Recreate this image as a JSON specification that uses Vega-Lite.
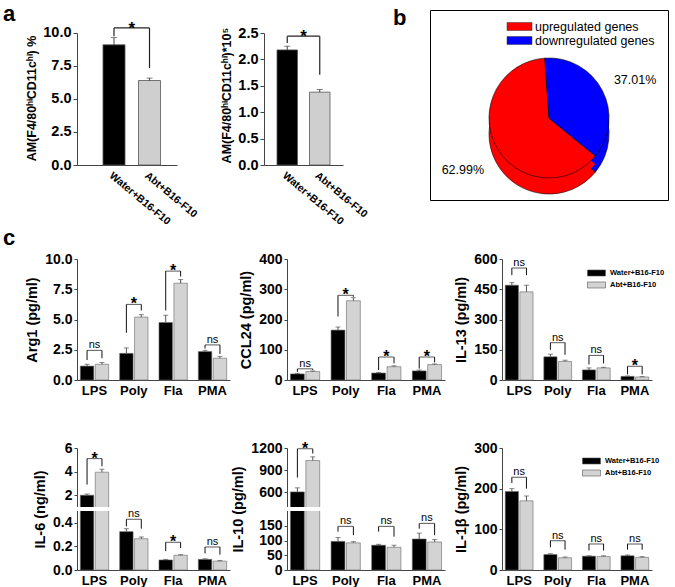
{
"$schema": "https://vega.github.io/schema/vega-lite/v6.json",
"background": "white",
"padding": {"left": 3, "top": 3, "right": 2, "bottom": 2},
"config": {
  "font": "Liberation Sans",
  "view": {"stroke": null},
  "axis": {"grid": false, "domainColor": "#444", "tickColor": "#444", "labelColor": "#000", "titleColor": "#000", "labelFont": "Liberation Sans", "titleFont": "Liberation Sans", "labelOverlap": false},
  "axisY": {"labelFontSize": 14, "labelFontWeight": "bold", "titleFontSize": 14.5, "titleFontWeight": "bold", "tickSize": 3, "labelPadding": 2, "titlePadding": 5, "labelOverlap": false, "tickCount": 20},
  "title": {"font": "Liberation Sans", "color": "#000"},
  "legend": {"labelFont": "Liberation Sans", "labelColor": "#000"},
  "text": {"font": "Liberation Sans"}
},
"datasets": {
  "a": [
    {"p": "a1", "g": "Water+B16-F10", "v": 9.1, "e": 9.65, "b": 9.75, "h": 10.38, "lab": "*"},
    {"p": "a1", "g": "Abt+B16-F10", "v": 6.4, "e": 6.58, "b": 7.35, "h": 10.38},
    {"p": "a2", "g": "Water+B16-F10", "v": 2.18, "e": 2.25, "b": 2.31, "h": 2.44, "lab": "*"},
    {"p": "a2", "g": "Abt+B16-F10", "v": 1.38, "e": 1.43, "b": 1.71, "h": 2.44}
  ],
  "c": [
    {"p": "Arg1", "cat": "LPS", "g": "Water+B16-F10", "v": 1.15, "e": 1.3, "b": 1.65, "h": 2.45, "lab": "ns"},
    {"p": "Arg1", "cat": "LPS", "g": "Abt+B16-F10", "v": 1.3, "e": 1.45, "b": 1.8, "h": 2.45},
    {"p": "Arg1", "cat": "Poly", "g": "Water+B16-F10", "v": 2.2, "e": 2.65, "b": 3.9, "h": 6.25, "lab": "*"},
    {"p": "Arg1", "cat": "Poly", "g": "Abt+B16-F10", "v": 5.2, "e": 5.4, "b": 5.75, "h": 6.25},
    {"p": "Arg1", "cat": "Fla", "g": "Water+B16-F10", "v": 4.75, "e": 5.35, "b": 5.75, "h": 9.0, "lab": "*"},
    {"p": "Arg1", "cat": "Fla", "g": "Abt+B16-F10", "v": 8.0, "e": 8.3, "b": 8.55, "h": 9.0},
    {"p": "Arg1", "cat": "PMA", "g": "Water+B16-F10", "v": 2.35, "e": 2.45, "b": 2.6, "h": 2.9, "lab": "ns"},
    {"p": "Arg1", "cat": "PMA", "g": "Abt+B16-F10", "v": 1.8, "e": 1.95, "b": 2.15, "h": 2.9},
    {"p": "CCL24", "cat": "LPS", "g": "Water+B16-F10", "v": 20, "e": 22, "b": 27, "h": 37, "lab": "ns"},
    {"p": "CCL24", "cat": "LPS", "g": "Abt+B16-F10", "v": 28, "e": 30, "b": 33, "h": 37},
    {"p": "CCL24", "cat": "Poly", "g": "Water+B16-F10", "v": 165, "e": 175, "b": 210, "h": 280, "lab": "*"},
    {"p": "CCL24", "cat": "Poly", "g": "Abt+B16-F10", "v": 262, "e": 272, "b": 275, "h": 280},
    {"p": "CCL24", "cat": "Fla", "g": "Water+B16-F10", "v": 23, "e": 25, "b": 33, "h": 76, "lab": "*"},
    {"p": "CCL24", "cat": "Fla", "g": "Abt+B16-F10", "v": 44, "e": 47, "b": 55, "h": 76},
    {"p": "CCL24", "cat": "PMA", "g": "Water+B16-F10", "v": 30, "e": 33, "b": 38, "h": 76, "lab": "*"},
    {"p": "CCL24", "cat": "PMA", "g": "Abt+B16-F10", "v": 51, "e": 53, "b": 58, "h": 76},
    {"p": "IL13", "cat": "LPS", "g": "Water+B16-F10", "v": 470, "e": 483, "b": 520, "h": 555, "lab": "ns"},
    {"p": "IL13", "cat": "LPS", "g": "Abt+B16-F10", "v": 437, "e": 470, "b": 520, "h": 555},
    {"p": "IL13", "cat": "Poly", "g": "Water+B16-F10", "v": 115, "e": 128, "b": 150, "h": 185, "lab": "ns"},
    {"p": "IL13", "cat": "Poly", "g": "Abt+B16-F10", "v": 92, "e": 98, "b": 125, "h": 185},
    {"p": "IL13", "cat": "Fla", "g": "Water+B16-F10", "v": 50, "e": 60, "b": 77, "h": 122, "lab": "ns"},
    {"p": "IL13", "cat": "Fla", "g": "Abt+B16-F10", "v": 60, "e": 63, "b": 82, "h": 122},
    {"p": "IL13", "cat": "PMA", "g": "Water+B16-F10", "v": 18, "e": 20, "b": 28, "h": 68, "lab": "*"},
    {"p": "IL13", "cat": "PMA", "g": "Abt+B16-F10", "v": 15, "e": 17, "b": 28, "h": 68},
    {"p": "IL6", "cat": "LPS", "g": "Water+B16-F10", "v": 2.0, "e": 2.1, "b": 2.9, "h": 5.1, "lab": "*"},
    {"p": "IL6", "cat": "LPS", "g": "Abt+B16-F10", "v": 3.95, "e": 4.2, "b": 4.45, "h": 5.1},
    {"p": "IL6", "cat": "Poly", "g": "Water+B16-F10", "v": 0.325, "e": 0.35, "b": 0.37, "h": 0.43, "lab": "ns"},
    {"p": "IL6", "cat": "Poly", "g": "Abt+B16-F10", "v": 0.265, "e": 0.28, "b": 0.35, "h": 0.43},
    {"p": "IL6", "cat": "Fla", "g": "Water+B16-F10", "v": 0.085, "e": 0.09, "b": 0.16, "h": 0.235, "lab": "*"},
    {"p": "IL6", "cat": "Fla", "g": "Abt+B16-F10", "v": 0.125, "e": 0.13, "b": 0.185, "h": 0.235},
    {"p": "IL6", "cat": "PMA", "g": "Water+B16-F10", "v": 0.09, "e": 0.095, "b": 0.14, "h": 0.195, "lab": "ns"},
    {"p": "IL6", "cat": "PMA", "g": "Abt+B16-F10", "v": 0.075, "e": 0.08, "b": 0.13, "h": 0.195},
    {"p": "IL10", "cat": "LPS", "g": "Water+B16-F10", "v": 605, "e": 660, "b": 800, "h": 1190, "lab": "*"},
    {"p": "IL10", "cat": "LPS", "g": "Abt+B16-F10", "v": 1030, "e": 1080, "b": 1125, "h": 1190},
    {"p": "IL10", "cat": "Poly", "g": "Water+B16-F10", "v": 97, "e": 110, "b": 130, "h": 148, "lab": "ns"},
    {"p": "IL10", "cat": "Poly", "g": "Abt+B16-F10", "v": 92, "e": 96, "b": 118, "h": 148},
    {"p": "IL10", "cat": "Fla", "g": "Water+B16-F10", "v": 84, "e": 87, "b": 130, "h": 148, "lab": "ns"},
    {"p": "IL10", "cat": "Fla", "g": "Abt+B16-F10", "v": 77, "e": 84, "b": 113, "h": 148},
    {"p": "IL10", "cat": "PMA", "g": "Water+B16-F10", "v": 105, "e": 125, "b": 140, "h": 158, "lab": "ns"},
    {"p": "IL10", "cat": "PMA", "g": "Abt+B16-F10", "v": 95, "e": 103, "b": 118, "h": 158},
    {"p": "IL1b", "cat": "LPS", "g": "Water+B16-F10", "v": 193, "e": 200, "b": 214, "h": 228, "lab": "ns"},
    {"p": "IL1b", "cat": "LPS", "g": "Abt+B16-F10", "v": 170, "e": 182, "b": 200, "h": 228},
    {"p": "IL1b", "cat": "Poly", "g": "Water+B16-F10", "v": 38, "e": 40, "b": 56, "h": 72, "lab": "ns"},
    {"p": "IL1b", "cat": "Poly", "g": "Abt+B16-F10", "v": 30, "e": 32, "b": 50, "h": 72},
    {"p": "IL1b", "cat": "Fla", "g": "Water+B16-F10", "v": 34, "e": 35, "b": 48, "h": 64, "lab": "ns"},
    {"p": "IL1b", "cat": "Fla", "g": "Abt+B16-F10", "v": 33, "e": 35, "b": 48, "h": 64},
    {"p": "IL1b", "cat": "PMA", "g": "Water+B16-F10", "v": 35, "e": 37, "b": 50, "h": 64, "lab": "ns"},
    {"p": "IL1b", "cat": "PMA", "g": "Abt+B16-F10", "v": 31, "e": 33, "b": 50, "h": 64}
  ],
  "pie": [
    {"cat": "upregulated genes", "pct": 62.99, "lab": "62.99%"},
    {"cat": "downregulated genes", "pct": 37.01, "lab": "37.01%"}
  ]
},
"columns": 1,
"spacing": 0,
"resolve": {"scale": {"color": "independent", "xOffset": "independent", "theta": "independent"}, "legend": {"color": "independent"}},
"concat": [
  {
    "hconcat": [
      {
        "width": 100, "height": 155,
        "title": {"text": "a", "anchor": "start", "frame": "group", "dx": -74, "offset": -16, "fontSize": 22, "fontWeight": "bold"},
        "data": {"name": "a"},
        "transform": [{"filter": "datum.p === 'a1'"}],
        "layer": [
          {"mark": {"type": "bar", "stroke": "#555", "strokeWidth": 0.8},
           "encoding": {
             "x": {"field": "g", "type": "nominal", "sort": ["Water+B16-F10", "Abt+B16-F10"], "scale": {"paddingInner": 0.38, "paddingOuter": 0.598, "align": 0.612}, "axis": {"title": null, "labelAngle": 40, "labelFontSize": 10.5, "labelFontWeight": "bold", "ticks": false, "labelPadding": 5}},
             "y": {"field": "v", "type": "quantitative", "scale": {"domain": [0, 11.74], "nice": false}, "axis": {"title": "AM(F4/80ʰⁱCD11cʰⁱ) %", "values": [0, 2.5, 5, 7.5, 10], "tickCount": 20, "format": ".1f", "labelOverlap": false, "domainDash": [132, 300], "titleFontSize": 12.5, "titleY": 88, "labelFontSize": 14.5, "tickSize": 4, "titlePadding": 4}},
             "color": {"field": "g", "type": "nominal", "scale": {"domain": ["Water+B16-F10", "Abt+B16-F10"], "range": ["#000000", "#cfcfcf"]}, "legend": null}
           }},
          {"mark": {"type": "rule", "color": "#444"},
           "encoding": {"x": {"field": "g", "type": "nominal", "sort": ["Water+B16-F10", "Abt+B16-F10"]}, "y": {"field": "v", "type": "quantitative"}, "y2": {"field": "e"}}},
          {"mark": {"type": "tick", "color": "#444", "size": 6, "thickness": 1},
           "encoding": {"x": {"field": "g", "type": "nominal", "sort": ["Water+B16-F10", "Abt+B16-F10"]}, "y": {"field": "e", "type": "quantitative"}}},
          {"mark": {"type": "rule", "color": "#222", "strokeWidth": 1.2},
           "encoding": {"x": {"field": "g", "type": "nominal", "sort": ["Water+B16-F10", "Abt+B16-F10"]}, "y": {"field": "b", "type": "quantitative"}, "y2": {"field": "h"}}},
          {"mark": {"type": "line", "color": "#222", "strokeWidth": 1.2},
           "encoding": {"x": {"field": "g", "type": "nominal", "sort": ["Water+B16-F10", "Abt+B16-F10"]}, "y": {"field": "h", "type": "quantitative"}}},
          {"transform": [{"filter": "datum.lab"}],
           "mark": {"type": "text", "fontSize": 17, "fontWeight": "bold", "baseline": "alphabetic", "dy": 6, "dx": 17.75},
           "encoding": {"x": {"field": "g", "type": "nominal", "sort": ["Water+B16-F10", "Abt+B16-F10"]}, "y": {"field": "h", "type": "quantitative"}, "text": {"field": "lab"}}}
        ]
      },
      {
        "width": 79, "height": 155,
        "data": {"name": "a"},
        "transform": [{"filter": "datum.p === 'a2'"}],
        "layer": [
          {"mark": {"type": "bar", "stroke": "#555", "strokeWidth": 0.8},
           "encoding": {
             "x": {"field": "g", "type": "nominal", "sort": ["Water+B16-F10", "Abt+B16-F10"], "scale": {"paddingInner": 0.37, "paddingOuter": 0.4}, "axis": {"title": null, "labelAngle": 40, "labelFontSize": 10.5, "labelFontWeight": "bold", "ticks": false, "labelPadding": 5}},
             "y": {"field": "v", "type": "quantitative", "scale": {"domain": [0, 2.936], "nice": false}, "axis": {"title": "AM(F4/80ʰⁱCD11cʰⁱ)*10⁵", "values": [0, 0.5, 1, 1.5, 2, 2.5], "tickCount": 20, "format": ".1f", "labelOverlap": false, "domainDash": [132, 300], "titleFontSize": 12.5, "titleY": 85, "labelFontSize": 14.5, "tickSize": 4, "titlePadding": 4}},
             "color": {"field": "g", "type": "nominal", "scale": {"domain": ["Water+B16-F10", "Abt+B16-F10"], "range": ["#000000", "#cfcfcf"]}, "legend": null}
           }},
          {"mark": {"type": "rule", "color": "#444"},
           "encoding": {"x": {"field": "g", "type": "nominal", "sort": ["Water+B16-F10", "Abt+B16-F10"]}, "y": {"field": "v", "type": "quantitative"}, "y2": {"field": "e"}}},
          {"mark": {"type": "tick", "color": "#444", "size": 6, "thickness": 1},
           "encoding": {"x": {"field": "g", "type": "nominal", "sort": ["Water+B16-F10", "Abt+B16-F10"]}, "y": {"field": "e", "type": "quantitative"}}},
          {"mark": {"type": "rule", "color": "#222", "strokeWidth": 1.2},
           "encoding": {"x": {"field": "g", "type": "nominal", "sort": ["Water+B16-F10", "Abt+B16-F10"]}, "y": {"field": "b", "type": "quantitative"}, "y2": {"field": "h"}}},
          {"mark": {"type": "line", "color": "#222", "strokeWidth": 1.2},
           "encoding": {"x": {"field": "g", "type": "nominal", "sort": ["Water+B16-F10", "Abt+B16-F10"]}, "y": {"field": "h", "type": "quantitative"}}},
          {"transform": [{"filter": "datum.lab"}],
           "mark": {"type": "text", "fontSize": 17, "fontWeight": "bold", "baseline": "alphabetic", "dy": 6, "dx": 16.25},
           "encoding": {"x": {"field": "g", "type": "nominal", "sort": ["Water+B16-F10", "Abt+B16-F10"]}, "y": {"field": "h", "type": "quantitative"}, "text": {"field": "lab"}}}
        ]
      },
      {
        "width": 238, "height": 190,
        "view": {"stroke": "#000", "strokeWidth": 1},
        "title": {"text": "b", "anchor": "start", "frame": "group", "dx": -37, "offset": -20, "fontSize": 22, "fontWeight": "bold"},
        "data": {"name": "pie"},
        "encoding": {
          "theta": {"field": "pct", "type": "quantitative", "stack": true, "scale": {"range": [-0.07, 6.2132]}},
          "order": {"field": "cat", "sort": "ascending"},
          "color": {"field": "cat", "type": "nominal", "scale": {"domain": ["upregulated genes", "downregulated genes"], "range": ["#ff0000", "#0000ff"]},
                    "legend": {"orient": "none", "legendX": 83, "legendY": 10, "title": null, "symbolType": "M-2,-0.64H2V0.64H-2Z", "symbolSize": 156, "labelFontSize": 12.5, "labelOffset": 9, "symbolStrokeColor": "#333", "symbolStrokeWidth": 0.5, "rowPadding": 1}}
        },
        "layer": [
          {"mark": {"type": "arc", "outerRadius": 60, "yOffset": 29, "stroke": "#000", "strokeWidth": 0.6}},
          {"mark": {"type": "arc", "outerRadius": 60, "yOffset": 21}},
          {"mark": {"type": "arc", "outerRadius": 60, "yOffset": 13, "stroke": "#000", "strokeWidth": 0.6}},
          {"mark": {"type": "text", "radius": 97, "yOffset": 13, "dy": 7, "fontSize": 12.5, "color": "#000"},
           "encoding": {"text": {"field": "lab"}, "color": {"value": "#000"}}}
        ]
      }
    ],
    "spacing": 87,
    "bounds": "flush",
    "resolve": {"scale": {"color": "independent", "xOffset": "independent", "theta": "independent"}, "legend": {"color": "independent"}}
  },
  {
    "hconcat": [
      {
        "width": 153, "height": 121,
        "title": {"text": "c", "anchor": "start", "frame": "group", "dx": -74, "offset": 2, "fontSize": 22, "fontWeight": "bold"},
        "data": {"name": "c"},
        "transform": [{"filter": "datum.p === 'Arg1'"}],
        "layer": [
          {"mark": {"type": "bar", "stroke": "#666", "strokeWidth": 0.6},
           "encoding": {
             "x": {"field": "cat", "type": "nominal", "sort": ["LPS", "Poly", "Fla", "PMA"], "scale": {"paddingInner": 0.28, "paddingOuter": 0.085}, "axis": {"title": null, "labelAngle": 0, "labelFontSize": 13, "labelFontWeight": "bold", "ticks": false, "labelPadding": 4}},
             "xOffset": {"field": "g", "type": "nominal", "sort": ["Water+B16-F10", "Abt+B16-F10"], "scale": {"paddingInner": 0.1}},
             "y": {"field": "v", "type": "quantitative", "scale": {"domain": [0, 10], "nice": false}, "axis": {"title": "Arg1  (pg/ml)", "values": [0, 2.5, 5, 7.5, 10], "tickCount": 20, "format": ".1f", "labelOverlap": false}},
             "color": {"field": "g", "type": "nominal", "scale": {"domain": ["Water+B16-F10", "Abt+B16-F10"], "range": ["#000000", "#d3d3d3"]}, "legend": null}
           }},
          {"mark": {"type": "rule", "color": "#555"},
           "encoding": {"x": {"field": "cat", "type": "nominal", "sort": ["LPS", "Poly", "Fla", "PMA"]}, "xOffset": {"field": "g", "type": "nominal", "sort": ["Water+B16-F10", "Abt+B16-F10"]}, "y": {"field": "v", "type": "quantitative"}, "y2": {"field": "e"}}},
          {"mark": {"type": "tick", "color": "#555", "size": 5, "thickness": 1},
           "encoding": {"x": {"field": "cat", "type": "nominal", "sort": ["LPS", "Poly", "Fla", "PMA"]}, "xOffset": {"field": "g", "type": "nominal", "sort": ["Water+B16-F10", "Abt+B16-F10"]}, "y": {"field": "e", "type": "quantitative"}}},
          {"mark": {"type": "rule", "color": "#111"},
           "encoding": {"x": {"field": "cat", "type": "nominal", "sort": ["LPS", "Poly", "Fla", "PMA"]}, "xOffset": {"field": "g", "type": "nominal", "sort": ["Water+B16-F10", "Abt+B16-F10"]}, "y": {"field": "b", "type": "quantitative"}, "y2": {"field": "h"}}},
          {"transform": [{"filter": "datum.lab"}], "mark": {"type": "tick", "color": "#111", "size": 15, "thickness": 1},
           "encoding": {"x": {"field": "cat", "type": "nominal", "sort": ["LPS", "Poly", "Fla", "PMA"]}, "y": {"field": "h", "type": "quantitative"}}},
          {"transform": [{"filter": "datum.lab === 'ns'"}], "mark": {"type": "text", "fontSize": 11, "baseline": "alphabetic", "dy": -2},
           "encoding": {"x": {"field": "cat", "type": "nominal", "sort": ["LPS", "Poly", "Fla", "PMA"]}, "y": {"field": "h", "type": "quantitative"}, "text": {"field": "lab"}}},
          {"transform": [{"filter": "datum.lab === '*'"}], "mark": {"type": "text", "fontSize": 16, "fontWeight": "bold", "baseline": "alphabetic", "dy": 5},
           "encoding": {"x": {"field": "cat", "type": "nominal", "sort": ["LPS", "Poly", "Fla", "PMA"]}, "y": {"field": "h", "type": "quantitative"}, "text": {"field": "lab"}}}
        ]
      },
      {
        "width": 158, "height": 121,
        "data": {"name": "c"},
        "transform": [{"filter": "datum.p === 'CCL24'"}],
        "layer": [
          {"mark": {"type": "bar", "stroke": "#666", "strokeWidth": 0.6},
           "encoding": {
             "x": {"field": "cat", "type": "nominal", "sort": ["LPS", "Poly", "Fla", "PMA"], "scale": {"paddingInner": 0.28, "paddingOuter": 0.085}, "axis": {"title": null, "labelAngle": 0, "labelFontSize": 13, "labelFontWeight": "bold", "ticks": false, "labelPadding": 4}},
             "xOffset": {"field": "g", "type": "nominal", "sort": ["Water+B16-F10", "Abt+B16-F10"], "scale": {"paddingInner": 0.1}},
             "y": {"field": "v", "type": "quantitative", "scale": {"domain": [0, 400], "nice": false}, "axis": {"title": "CCL24 (pg/ml)", "values": [0, 100, 200, 300, 400], "tickCount": 20, "labelOverlap": false}},
             "color": {"field": "g", "type": "nominal", "scale": {"domain": ["Water+B16-F10", "Abt+B16-F10"], "range": ["#000000", "#d3d3d3"]}, "legend": null}
           }},
          {"mark": {"type": "rule", "color": "#555"},
           "encoding": {"x": {"field": "cat", "type": "nominal", "sort": ["LPS", "Poly", "Fla", "PMA"]}, "xOffset": {"field": "g", "type": "nominal", "sort": ["Water+B16-F10", "Abt+B16-F10"]}, "y": {"field": "v", "type": "quantitative"}, "y2": {"field": "e"}}},
          {"mark": {"type": "tick", "color": "#555", "size": 5, "thickness": 1},
           "encoding": {"x": {"field": "cat", "type": "nominal", "sort": ["LPS", "Poly", "Fla", "PMA"]}, "xOffset": {"field": "g", "type": "nominal", "sort": ["Water+B16-F10", "Abt+B16-F10"]}, "y": {"field": "e", "type": "quantitative"}}},
          {"mark": {"type": "rule", "color": "#111"},
           "encoding": {"x": {"field": "cat", "type": "nominal", "sort": ["LPS", "Poly", "Fla", "PMA"]}, "xOffset": {"field": "g", "type": "nominal", "sort": ["Water+B16-F10", "Abt+B16-F10"]}, "y": {"field": "b", "type": "quantitative"}, "y2": {"field": "h"}}},
          {"transform": [{"filter": "datum.lab"}], "mark": {"type": "tick", "color": "#111", "size": 15, "thickness": 1},
           "encoding": {"x": {"field": "cat", "type": "nominal", "sort": ["LPS", "Poly", "Fla", "PMA"]}, "y": {"field": "h", "type": "quantitative"}}},
          {"transform": [{"filter": "datum.lab === 'ns'"}], "mark": {"type": "text", "fontSize": 11, "baseline": "alphabetic", "dy": -2},
           "encoding": {"x": {"field": "cat", "type": "nominal", "sort": ["LPS", "Poly", "Fla", "PMA"]}, "y": {"field": "h", "type": "quantitative"}, "text": {"field": "lab"}}},
          {"transform": [{"filter": "datum.lab === '*'"}], "mark": {"type": "text", "fontSize": 16, "fontWeight": "bold", "baseline": "alphabetic", "dy": 5},
           "encoding": {"x": {"field": "cat", "type": "nominal", "sort": ["LPS", "Poly", "Fla", "PMA"]}, "y": {"field": "h", "type": "quantitative"}, "text": {"field": "lab"}}}
        ]
      },
      {
        "width": 150, "height": 121,
        "data": {"name": "c"},
        "transform": [{"filter": "datum.p === 'IL13'"}],
        "layer": [
          {"mark": {"type": "bar", "stroke": "#666", "strokeWidth": 0.6},
           "encoding": {
             "x": {"field": "cat", "type": "nominal", "sort": ["LPS", "Poly", "Fla", "PMA"], "scale": {"paddingInner": 0.28, "paddingOuter": 0.085}, "axis": {"title": null, "labelAngle": 0, "labelFontSize": 13, "labelFontWeight": "bold", "ticks": false, "labelPadding": 4}},
             "xOffset": {"field": "g", "type": "nominal", "sort": ["Water+B16-F10", "Abt+B16-F10"], "scale": {"paddingInner": 0.1}},
             "y": {"field": "v", "type": "quantitative", "scale": {"domain": [0, 600], "nice": false}, "axis": {"title": "IL-13 (pg/ml)", "values": [0, 150, 300, 450, 600], "tickCount": 20, "labelOverlap": false}},
             "color": {"field": "g", "type": "nominal", "scale": {"domain": ["Water+B16-F10", "Abt+B16-F10"], "range": ["#000000", "#d3d3d3"]},
                       "legend": {"orient": "none", "legendX": 89.5, "legendY": 9, "title": null, "symbolType": "M-2,-0.67H2V0.67H-2Z", "symbolSize": 81, "labelFontSize": 7.5, "labelFontWeight": "bold", "labelOffset": 8.5, "symbolStrokeColor": "#555", "symbolStrokeWidth": 0.6, "rowPadding": 2}}
           }},
          {"mark": {"type": "rule", "color": "#555"},
           "encoding": {"x": {"field": "cat", "type": "nominal", "sort": ["LPS", "Poly", "Fla", "PMA"]}, "xOffset": {"field": "g", "type": "nominal", "sort": ["Water+B16-F10", "Abt+B16-F10"]}, "y": {"field": "v", "type": "quantitative"}, "y2": {"field": "e"}}},
          {"mark": {"type": "tick", "color": "#555", "size": 5, "thickness": 1},
           "encoding": {"x": {"field": "cat", "type": "nominal", "sort": ["LPS", "Poly", "Fla", "PMA"]}, "xOffset": {"field": "g", "type": "nominal", "sort": ["Water+B16-F10", "Abt+B16-F10"]}, "y": {"field": "e", "type": "quantitative"}}},
          {"mark": {"type": "rule", "color": "#111"},
           "encoding": {"x": {"field": "cat", "type": "nominal", "sort": ["LPS", "Poly", "Fla", "PMA"]}, "xOffset": {"field": "g", "type": "nominal", "sort": ["Water+B16-F10", "Abt+B16-F10"]}, "y": {"field": "b", "type": "quantitative"}, "y2": {"field": "h"}}},
          {"transform": [{"filter": "datum.lab"}], "mark": {"type": "tick", "color": "#111", "size": 15, "thickness": 1},
           "encoding": {"x": {"field": "cat", "type": "nominal", "sort": ["LPS", "Poly", "Fla", "PMA"]}, "y": {"field": "h", "type": "quantitative"}}},
          {"transform": [{"filter": "datum.lab === 'ns'"}], "mark": {"type": "text", "fontSize": 11, "baseline": "alphabetic", "dy": -2},
           "encoding": {"x": {"field": "cat", "type": "nominal", "sort": ["LPS", "Poly", "Fla", "PMA"]}, "y": {"field": "h", "type": "quantitative"}, "text": {"field": "lab"}}},
          {"transform": [{"filter": "datum.lab === '*'"}], "mark": {"type": "text", "fontSize": 16, "fontWeight": "bold", "baseline": "alphabetic", "dy": 5},
           "encoding": {"x": {"field": "cat", "type": "nominal", "sort": ["LPS", "Poly", "Fla", "PMA"]}, "y": {"field": "h", "type": "quantitative"}, "text": {"field": "lab"}}}
        ]
      }
    ],
    "spacing": 57,
    "bounds": "flush",
    "resolve": {"scale": {"color": "independent", "xOffset": "independent"}, "legend": {"color": "independent"}}
  },
  {
    "hconcat": [
      {
        "width": 153, "height": 122,
        "title": {"text": ".", "color": "#ffffff", "anchor": "start", "frame": "group", "dx": -74, "offset": 42, "fontSize": 2},
        "data": {"name": "c"},
        "transform": [{"filter": "datum.p === 'IL6'"}],
        "layer": [
          {"mark": {"type": "bar", "stroke": "#666", "strokeWidth": 0.6},
           "encoding": {
             "x": {"field": "cat", "type": "nominal", "sort": ["LPS", "Poly", "Fla", "PMA"], "scale": {"paddingInner": 0.28, "paddingOuter": 0.085}, "axis": {"title": null, "labelAngle": 0, "labelFontSize": 13, "labelFontWeight": "bold", "ticks": false, "labelPadding": 4}},
             "xOffset": {"field": "g", "type": "nominal", "sort": ["Water+B16-F10", "Abt+B16-F10"], "scale": {"paddingInner": 0.1}},
             "y": {"field": "v", "type": "quantitative", "scale": {"domain": [0, 0.5, 1, 6], "range": [122, 63, 59, 0], "nice": false, "zero": false}, "axis": {"title": "IL-6  (ng/ml)", "values": [0, 0.2, 0.4, 2, 4, 6], "tickCount": 20, "labelOverlap": false, "labelExpr": "datum.value < 1 ? format(datum.value, '.1f') : format(datum.value, 'd')"}},
             "color": {"field": "g", "type": "nominal", "scale": {"domain": ["Water+B16-F10", "Abt+B16-F10"], "range": ["#000000", "#d3d3d3"]}, "legend": null}
           }},
          {"mark": {"type": "rule", "color": "#555"},
           "encoding": {"x": {"field": "cat", "type": "nominal", "sort": ["LPS", "Poly", "Fla", "PMA"]}, "xOffset": {"field": "g", "type": "nominal", "sort": ["Water+B16-F10", "Abt+B16-F10"]}, "y": {"field": "v", "type": "quantitative"}, "y2": {"field": "e"}}},
          {"mark": {"type": "tick", "color": "#555", "size": 5, "thickness": 1},
           "encoding": {"x": {"field": "cat", "type": "nominal", "sort": ["LPS", "Poly", "Fla", "PMA"]}, "xOffset": {"field": "g", "type": "nominal", "sort": ["Water+B16-F10", "Abt+B16-F10"]}, "y": {"field": "e", "type": "quantitative"}}},
          {"mark": {"type": "rect", "color": "#ffffff"},
           "encoding": {"y": {"datum": 0.5, "type": "quantitative"}, "y2": {"datum": 1}}},
          {"mark": {"type": "rule", "color": "#111"},
           "encoding": {"x": {"field": "cat", "type": "nominal", "sort": ["LPS", "Poly", "Fla", "PMA"]}, "xOffset": {"field": "g", "type": "nominal", "sort": ["Water+B16-F10", "Abt+B16-F10"]}, "y": {"field": "b", "type": "quantitative"}, "y2": {"field": "h"}}},
          {"transform": [{"filter": "datum.lab"}], "mark": {"type": "tick", "color": "#111", "size": 15, "thickness": 1},
           "encoding": {"x": {"field": "cat", "type": "nominal", "sort": ["LPS", "Poly", "Fla", "PMA"]}, "y": {"field": "h", "type": "quantitative"}}},
          {"transform": [{"filter": "datum.lab === 'ns'"}], "mark": {"type": "text", "fontSize": 11, "baseline": "alphabetic", "dy": -2},
           "encoding": {"x": {"field": "cat", "type": "nominal", "sort": ["LPS", "Poly", "Fla", "PMA"]}, "y": {"field": "h", "type": "quantitative"}, "text": {"field": "lab"}}},
          {"transform": [{"filter": "datum.lab === '*'"}], "mark": {"type": "text", "fontSize": 16, "fontWeight": "bold", "baseline": "alphabetic", "dy": 5},
           "encoding": {"x": {"field": "cat", "type": "nominal", "sort": ["LPS", "Poly", "Fla", "PMA"]}, "y": {"field": "h", "type": "quantitative"}, "text": {"field": "lab"}}}
        ]
      },
      {
        "width": 158, "height": 122,
        "data": {"name": "c"},
        "transform": [{"filter": "datum.p === 'IL10'"}],
        "layer": [
          {"mark": {"type": "bar", "stroke": "#666", "strokeWidth": 0.6},
           "encoding": {
             "x": {"field": "cat", "type": "nominal", "sort": ["LPS", "Poly", "Fla", "PMA"], "scale": {"paddingInner": 0.28, "paddingOuter": 0.085}, "axis": {"title": null, "labelAngle": 0, "labelFontSize": 13, "labelFontWeight": "bold", "ticks": false, "labelPadding": 4}},
             "xOffset": {"field": "g", "type": "nominal", "sort": ["Water+B16-F10", "Abt+B16-F10"], "scale": {"paddingInner": 0.1}},
             "y": {"field": "v", "type": "quantitative", "scale": {"domain": [0, 200, 400, 1200], "range": [122, 63, 59, 0], "nice": false, "zero": false}, "axis": {"title": "IL-10  (pg/ml)", "values": [0, 50, 100, 150, 600, 900, 1200], "tickCount": 20, "format": "d", "labelOverlap": false}},
             "color": {"field": "g", "type": "nominal", "scale": {"domain": ["Water+B16-F10", "Abt+B16-F10"], "range": ["#000000", "#d3d3d3"]}, "legend": null}
           }},
          {"mark": {"type": "rule", "color": "#555"},
           "encoding": {"x": {"field": "cat", "type": "nominal", "sort": ["LPS", "Poly", "Fla", "PMA"]}, "xOffset": {"field": "g", "type": "nominal", "sort": ["Water+B16-F10", "Abt+B16-F10"]}, "y": {"field": "v", "type": "quantitative"}, "y2": {"field": "e"}}},
          {"mark": {"type": "tick", "color": "#555", "size": 5, "thickness": 1},
           "encoding": {"x": {"field": "cat", "type": "nominal", "sort": ["LPS", "Poly", "Fla", "PMA"]}, "xOffset": {"field": "g", "type": "nominal", "sort": ["Water+B16-F10", "Abt+B16-F10"]}, "y": {"field": "e", "type": "quantitative"}}},
          {"mark": {"type": "rect", "color": "#ffffff"},
           "encoding": {"y": {"datum": 200, "type": "quantitative"}, "y2": {"datum": 400}}},
          {"mark": {"type": "rule", "color": "#111"},
           "encoding": {"x": {"field": "cat", "type": "nominal", "sort": ["LPS", "Poly", "Fla", "PMA"]}, "xOffset": {"field": "g", "type": "nominal", "sort": ["Water+B16-F10", "Abt+B16-F10"]}, "y": {"field": "b", "type": "quantitative"}, "y2": {"field": "h"}}},
          {"transform": [{"filter": "datum.lab"}], "mark": {"type": "tick", "color": "#111", "size": 15, "thickness": 1},
           "encoding": {"x": {"field": "cat", "type": "nominal", "sort": ["LPS", "Poly", "Fla", "PMA"]}, "y": {"field": "h", "type": "quantitative"}}},
          {"transform": [{"filter": "datum.lab === 'ns'"}], "mark": {"type": "text", "fontSize": 11, "baseline": "alphabetic", "dy": -2},
           "encoding": {"x": {"field": "cat", "type": "nominal", "sort": ["LPS", "Poly", "Fla", "PMA"]}, "y": {"field": "h", "type": "quantitative"}, "text": {"field": "lab"}}},
          {"transform": [{"filter": "datum.lab === '*'"}], "mark": {"type": "text", "fontSize": 16, "fontWeight": "bold", "baseline": "alphabetic", "dy": 5},
           "encoding": {"x": {"field": "cat", "type": "nominal", "sort": ["LPS", "Poly", "Fla", "PMA"]}, "y": {"field": "h", "type": "quantitative"}, "text": {"field": "lab"}}}
        ]
      },
      {
        "width": 150, "height": 122,
        "data": {"name": "c"},
        "transform": [{"filter": "datum.p === 'IL1b'"}],
        "layer": [
          {"mark": {"type": "bar", "stroke": "#666", "strokeWidth": 0.6},
           "encoding": {
             "x": {"field": "cat", "type": "nominal", "sort": ["LPS", "Poly", "Fla", "PMA"], "scale": {"paddingInner": 0.28, "paddingOuter": 0.085}, "axis": {"title": null, "labelAngle": 0, "labelFontSize": 13, "labelFontWeight": "bold", "ticks": false, "labelPadding": 4}},
             "xOffset": {"field": "g", "type": "nominal", "sort": ["Water+B16-F10", "Abt+B16-F10"], "scale": {"paddingInner": 0.1}},
             "y": {"field": "v", "type": "quantitative", "scale": {"domain": [0, 300], "nice": false}, "axis": {"title": "IL-1β (pg/ml)", "values": [0, 100, 200, 300], "tickCount": 20, "labelOverlap": false}},
             "color": {"field": "g", "type": "nominal", "scale": {"domain": ["Water+B16-F10", "Abt+B16-F10"], "range": ["#000000", "#d3d3d3"]},
                       "legend": {"orient": "none", "legendX": 84.5, "legendY": 8, "title": null, "symbolType": "M-2,-0.67H2V0.67H-2Z", "symbolSize": 81, "labelFontSize": 7.5, "labelFontWeight": "bold", "labelOffset": 8.5, "symbolStrokeColor": "#555", "symbolStrokeWidth": 0.6, "rowPadding": 2}}
           }},
          {"mark": {"type": "rule", "color": "#555"},
           "encoding": {"x": {"field": "cat", "type": "nominal", "sort": ["LPS", "Poly", "Fla", "PMA"]}, "xOffset": {"field": "g", "type": "nominal", "sort": ["Water+B16-F10", "Abt+B16-F10"]}, "y": {"field": "v", "type": "quantitative"}, "y2": {"field": "e"}}},
          {"mark": {"type": "tick", "color": "#555", "size": 5, "thickness": 1},
           "encoding": {"x": {"field": "cat", "type": "nominal", "sort": ["LPS", "Poly", "Fla", "PMA"]}, "xOffset": {"field": "g", "type": "nominal", "sort": ["Water+B16-F10", "Abt+B16-F10"]}, "y": {"field": "e", "type": "quantitative"}}},
          {"mark": {"type": "rule", "color": "#111"},
           "encoding": {"x": {"field": "cat", "type": "nominal", "sort": ["LPS", "Poly", "Fla", "PMA"]}, "xOffset": {"field": "g", "type": "nominal", "sort": ["Water+B16-F10", "Abt+B16-F10"]}, "y": {"field": "b", "type": "quantitative"}, "y2": {"field": "h"}}},
          {"transform": [{"filter": "datum.lab"}], "mark": {"type": "tick", "color": "#111", "size": 15, "thickness": 1},
           "encoding": {"x": {"field": "cat", "type": "nominal", "sort": ["LPS", "Poly", "Fla", "PMA"]}, "y": {"field": "h", "type": "quantitative"}}},
          {"transform": [{"filter": "datum.lab === 'ns'"}], "mark": {"type": "text", "fontSize": 11, "baseline": "alphabetic", "dy": -2},
           "encoding": {"x": {"field": "cat", "type": "nominal", "sort": ["LPS", "Poly", "Fla", "PMA"]}, "y": {"field": "h", "type": "quantitative"}, "text": {"field": "lab"}}},
          {"transform": [{"filter": "datum.lab === '*'"}], "mark": {"type": "text", "fontSize": 16, "fontWeight": "bold", "baseline": "alphabetic", "dy": 5},
           "encoding": {"x": {"field": "cat", "type": "nominal", "sort": ["LPS", "Poly", "Fla", "PMA"]}, "y": {"field": "h", "type": "quantitative"}, "text": {"field": "lab"}}}
        ]
      }
    ],
    "spacing": 57,
    "bounds": "flush",
    "resolve": {"scale": {"color": "independent", "xOffset": "independent"}, "legend": {"color": "independent"}}
  }
]
}
